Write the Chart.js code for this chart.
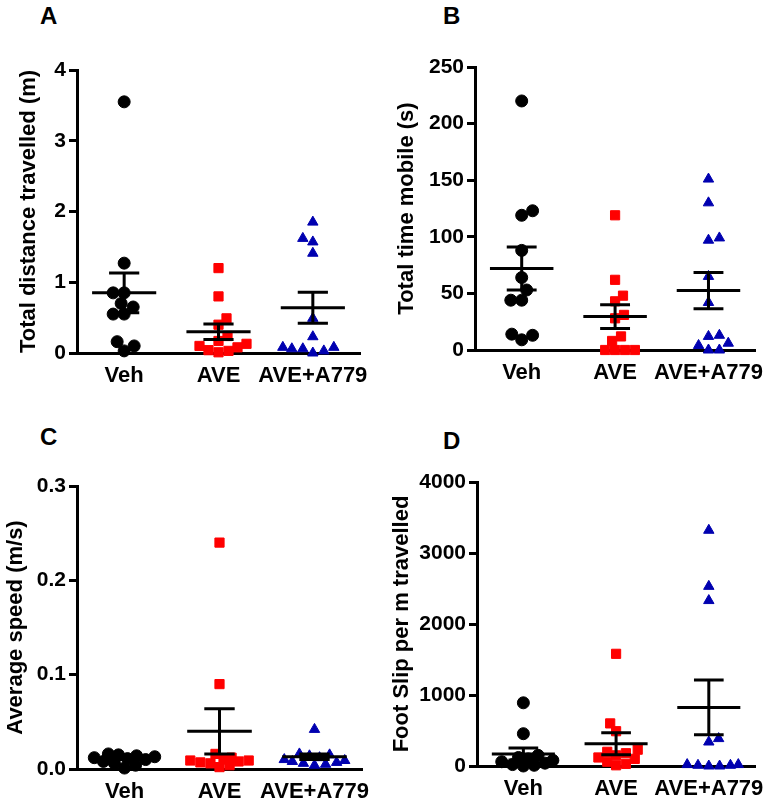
<!DOCTYPE html>
<html>
<head>
<meta charset="utf-8">
<script src="https://cdn.jsdelivr.net/npm/chart.js@4.4.0/dist/chart.umd.min.js"></script>
<style>
    body { margin: 0; background: #fff; width: 776px; height: 808px; position: relative; overflow: hidden; font-family: "Liberation Sans", Arial, sans-serif; }
    canvas { position: absolute; }
    .letter { position: absolute; font-weight: bold; font-size: 24px; line-height: 1; color: #000; }
</style>
</head>
<body>
<div class="letter" style="left:40px;top:4px">A</div>
<div class="letter" style="left:443px;top:4px">B</div>
<div class="letter" style="left:40px;top:425px">C</div>
<div class="letter" style="left:443px;top:429px">D</div>

<canvas id="chartA" width="388" height="400" style="left:0;top:0"></canvas>
<canvas id="chartB" width="388" height="400" style="left:388px;top:0"></canvas>
<canvas id="chartC" width="388" height="408" style="left:0;top:400px"></canvas>
<canvas id="chartD" width="388" height="408" style="left:388px;top:400px"></canvas>

<script>
// Group labels
const groups = ['Veh', 'AVE', 'AVE+A779'];

// A - total distance travelled (m)
const distVeh = [3.55, 1.27, 0.85, 0.85, 0.70, 0.65, 0.55, 0.55, 0.16, 0.03, 0.10];
const distAve = [1.20, 0.80, 0.49, 0.40, 0.24, 0.17, 0.13, 0.08, 0.04, 0.01, 0.03, 0.10];
const distAveA779 = [1.85, 1.62, 1.57, 1.41, 0.49, 0.23, 0.08, 0.06, 0.00, 0.03, 0.06, 0.08];
const distMean = [0.85, 0.30, 0.64];
const distSem = [0.28, 0.11, 0.22];

// B - total time mobile (s)
const timeVeh = [220, 123, 119, 88, 64, 53, 44, 44, 14, 13, 9];
const timeAve = [119, 62, 48, 43, 31, 28, 12, 8, 0, 0, 0, 0];
const timeAveA779 = [151, 130, 99, 97, 65, 42, 13, 12, 6, 4, 0, 0];
const timeMean = [72, 29.5, 52.5];
const timeSem = [19, 10.5, 16];

// C - average speed (m/s)
const speedVeh = [0.016, 0.015, 0.014, 0.013, 0.012, 0.011, 0.010, 0.008, 0.006, 0.004, 0.001];
const speedAve = [0.240, 0.090, 0.016, 0.012, 0.010, 0.009, 0.009, 0.008, 0.007, 0.006, 0.004, 0.002];
const speedAveA779 = [0.042, 0.016, 0.015, 0.014, 0.012, 0.010, 0.009, 0.008, 0.007, 0.006, 0.005, 0.004];
const speedMean = [0.011, 0.040, 0.013];
const speedSem = [0.001, 0.024, 0.003];

// D - foot slip per m travelled
const slipVeh = [890, 455, 150, 120, 100, 80, 60, 40, 20, 10, 0];
const slipAve = [1580, 600, 490, 230, 200, 180, 150, 120, 100, 60, 30, 10];
const slipAveA779 = [3320, 2530, 2330, 386, 338, 20, 10, 0, 0, 10, 20];
const slipMean = [170, 315, 825];
const slipSem = [85, 155, 385];

const PLOT_H = 283;          // plot height in px, used for the swarm spacing
const PX_PER_GROUP = 283 / 3;
const MAX_OFF = 30;          // max horizontal spread (px) of a swarm

// Simple beeswarm: lowest values go in the middle, others pushed sideways
function swarm(values, yMax, size) {
    const pxPerY = PLOT_H / yMax;
    const order = values.map((v, i) => i).sort((a, b) => values[a] - values[b]);
    const placed = [];
    const offsets = new Array(values.length).fill(0);
    order.forEach(i => {
        const py = values[i] * pxPerY;
        let best = 0, bestScore = -1;
        for (let k = 0; k <= MAX_OFF; k++) {
            const cands = k === 0 ? [0] : (placed.length % 2 ? [k, -k] : [-k, k]);
            for (const x of cands) {
                let minD = Infinity;
                placed.forEach(p => { minD = Math.min(minD, Math.hypot(p.x - x, p.y - py)); });
                const score = Math.min(minD, size);
                if (score > bestScore + 1e-9) { bestScore = score; best = x; }
            }
            if (bestScore >= size) break;
        }
        placed.push({ x: best, y: py });
        offsets[i] = best / PX_PER_GROUP;
    });
    return offsets;
}

const meanSemPlugin = {
    id: 'meanSem',
    afterDatasetsDraw(chart, args, opts) {
        const { ctx, scales: { x, y } } = chart;
        ctx.save();
        ctx.strokeStyle = '#000';
        ctx.lineWidth = 3;
        opts.mean.forEach((m, i) => {
            const cx = x.getPixelForValue(i + 1);
            const meanHalf = x.getPixelForValue(i + 1 + 0.34) - cx;
            const capHalf = x.getPixelForValue(i + 1 + 0.16) - cx;
            const yTop = y.getPixelForValue(m + opts.sem[i]);
            const yBot = y.getPixelForValue(m - opts.sem[i]);
            const yMean = y.getPixelForValue(m);
            ctx.beginPath();
            ctx.moveTo(cx, yTop); ctx.lineTo(cx, yBot);
            ctx.moveTo(cx - capHalf, yTop); ctx.lineTo(cx + capHalf, yTop);
            ctx.moveTo(cx - capHalf, yBot); ctx.lineTo(cx + capHalf, yBot);
            ctx.moveTo(cx - meanHalf, yMean); ctx.lineTo(cx + meanHalf, yMean);
            ctx.stroke();
        });
        ctx.restore();
    }
};

const styles = [
    { color: '#000000', pointStyle: 'circle', radius: 6, size: 11 },
    { color: '#ff0000', pointStyle: 'rect', radius: 6.5, size: 9.5 },
    { color: '#0000b0', pointStyle: 'triangle', radius: 6, size: 10.5 }
];

function renderPanel(canvasId, series, mean, sem, cfg) {
    const datasets = series.map((values, g) => {
        const off = swarm(values, cfg.max, styles[g].size);
        return {
            label: groups[g],
            data: values.map((v, i) => ({ x: g + 1 + off[i], y: v })),
            pointStyle: styles[g].pointStyle,
            pointRadius: styles[g].radius,
            pointBackgroundColor: styles[g].color,
            pointBorderColor: styles[g].color,
            pointBorderWidth: 1,
            clip: false
        };
    });

    return new Chart(document.getElementById(canvasId), {
        type: 'scatter',
        data: { datasets: datasets },
        plugins: [meanSemPlugin],
        options: {
            responsive: false,
            animation: false,
            layout: { padding: { top: cfg.top, right: cfg.right, bottom: 0, left: 0 } },
            plugins: {
                legend: { display: false },
                tooltip: { enabled: false },
                meanSem: { mean: mean, sem: sem }
            },
            scales: {
                x: {
                    type: 'linear',
                    min: 0.5,
                    max: 3.5,
                    afterBuildTicks: s => { s.ticks = [1, 2, 3].map(v => ({ value: v })); },
                    afterFit: s => { s.height = cfg.xHeight; },
                    grid: { display: false, drawTicks: false },
                    border: { display: true, color: '#000', width: 3 },
                    ticks: {
                        color: '#000',
                        padding: 10,
                        maxRotation: 0,
                        font: { family: 'Liberation Sans', weight: 'bold', size: 22 },
                        callback: v => groups[v - 1]
                    }
                },
                y: {
                    min: 0,
                    max: cfg.max,
                    afterFit: s => { s.width = cfg.yWidth; },
                    grid: { display: true, drawOnChartArea: false, drawTicks: true, tickLength: 8, color: '#000', lineWidth: 3 },
                    border: { display: true, color: '#000', width: 3 },
                    ticks: {
                        stepSize: cfg.step,
                        color: '#000',
                        padding: 3,
                        font: { family: 'Liberation Sans', weight: 'bold', size: 21 },
                        callback: cfg.fmt
                    },
                    title: {
                        display: true,
                        text: cfg.title,
                        color: '#000',
                        padding: { top: cfg.titlePad, bottom: 0 },
                        font: { family: 'Liberation Sans', weight: 'bold', size: 22 }
                    }
                }
            }
        }
    });
}

renderPanel('chartA', [distVeh, distAve, distAveA779], distMean, distSem, {
    max: 4, step: 1, fmt: v => String(v), title: 'Total distance travelled (m)',
    top: 70, right: 28, xHeight: 47, yWidth: 77, titlePad: 16
});
renderPanel('chartB', [timeVeh, timeAve, timeAveA779], timeMean, timeSem, {
    max: 250, step: 50, fmt: v => String(v), title: 'Total time mobile (s)',
    top: 67, right: 18, xHeight: 50, yWidth: 87, titlePad: 6
});
renderPanel('chartC', [speedVeh, speedAve, speedAveA779], speedMean, speedSem, {
    max: 0.3, step: 0.1, fmt: v => v.toFixed(1), title: 'Average speed (m/s)',
    top: 86, right: 26, xHeight: 39, yWidth: 77, titlePad: 3
});
renderPanel('chartD', [slipVeh, slipAve, slipAveA779], slipMean, slipSem, {
    max: 4000, step: 1000, fmt: v => String(v), title: 'Foot Slip per m travelled',
    top: 82, right: 16, xHeight: 42, yWidth: 89, titlePad: 1
});
</script>
</body>
</html>
